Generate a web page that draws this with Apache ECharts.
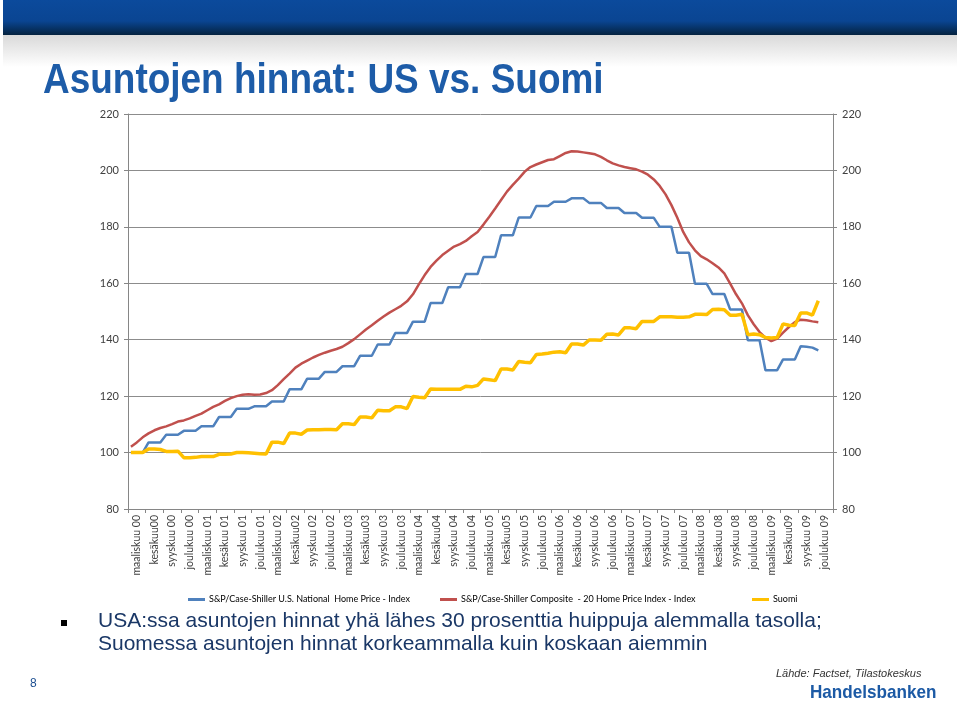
<!DOCTYPE html>
<html>
<head>
<meta charset="utf-8">
<script src="https://cdn.jsdelivr.net/npm/echarts@6/dist/echarts.min.js"></script>
<style>
html,body{margin:0;padding:0;background:#fff;}
#chart{width:960px;height:701px;}
</style>
</head>
<body>
<div id="chart"></div>
<script>
// ---- data ----
const monthNames = ['tammikuu','helmikuu','maaliskuu','huhtikuu','toukokuu','kesäkuu','heinäkuu','elokuu','syyskuu','lokakuu','marraskuu','joulukuu'];
// months March 2000 .. February 2010 (120 categories)
const categories = [];
for (let k = 0; k < 120; k++) {
  const m = (2 + k) % 12;
  const y = 2000 + Math.floor((2 + k) / 12);
  categories.push(monthNames[m] + ' ' + String(y % 100).padStart(2, '0'));
}
const tickLabels = [
  'maaliskuu 00','kesäkuu00','syyskuu 00','joulukuu 00',
  'maaliskuu 01','kesäkuu 01','syyskuu 01','joulukuu 01',
  'maaliskuu 02','kesäkuu02','syyskuu 02','joulukuu 02',
  'maaliskuu 03','kesäkuu03','syyskuu 03','joulukuu 03',
  'maaliskuu 04','kesäkuu04','syyskuu 04','joulukuu 04',
  'maaliskuu 05','kesäkuu05','syyskuu 05','joulukuu 05',
  'maaliskuu 06','kesäkuu 06','syyskuu 06','joulukuu 06',
  'maaliskuu 07','kesäkuu 07','syyskuu 07','joulukuu 07',
  'maaliskuu 08','kesäkuu 08','syyskuu 08','joulukuu 08',
  'maaliskuu 09','kesäkuu09','syyskuu 09','joulukuu 09'
];
const seriesNames = [
  'S&P/Case-Shiller U.S. National  Home Price - Index',
  'S&P/Case-Shiller Composite  - 20 Home Price Index - Index',
  'Suomi'
];
const usNational = [
  100.0,100.0,100.0, 103.6,103.6,103.6, 106.3,106.3,106.3, 107.7,107.7,107.7,
  109.3,109.3,109.3, 112.6,112.6,112.6, 115.5,115.5,115.5, 116.4,116.4,116.4,
  118.1,118.1,118.1, 122.4,122.4,122.4, 126.2,126.2,126.2, 128.6,128.6,128.6,
  130.6,130.6,130.6, 134.3,134.3,134.3, 138.3,138.3,138.3, 142.4,142.4,142.4,
  146.4,146.4,146.4, 153.0,153.0,153.0, 158.6,158.6,158.6, 163.3,163.3,163.3,
  169.3,169.3,169.3, 177.0,177.0,177.0, 183.3,183.3,183.3, 187.4,187.4,187.4,
  188.9,188.9,188.9, 190.1,190.1,190.1, 188.5,188.5,188.5, 186.7,186.7,186.7,
  184.9,184.9,184.9, 183.2,183.2,183.2, 180.0,180.0,180.0, 170.8,170.8,170.8,
  159.8,159.8,159.8, 156.2,156.2,156.2, 150.7,150.7,150.7, 139.8,139.8,139.8,
  129.2,129.2,129.2, 133.0,133.0,133.0, 137.7,137.5,137.2, 136.2
];
const composite20 = [
  102.1,103.6,105.4,106.8,107.9,108.7,109.3,110.1,111.0,111.4,
  112.1,113.0,113.8,115.0,116.2,117.1,118.3,119.3,120.0,120.5,
  120.7,120.5,120.6,121.1,122.1,123.9,126.0,128.0,130.1,131.5,
  132.6,133.7,134.6,135.4,136.1,136.7,137.5,138.8,140.2,141.9,
  143.6,145.1,146.7,148.2,149.6,150.8,152.0,153.6,156.1,159.6,
  162.9,165.8,168.0,170.0,171.5,173.0,173.9,175.0,176.7,178.2,
  180.8,183.6,186.5,189.5,192.5,194.9,197.1,199.5,201.2,202.1,
  202.9,203.7,204.0,205.1,206.2,206.8,206.7,206.4,206.1,205.7,
  204.8,203.6,202.5,201.8,201.2,200.8,200.4,199.6,198.5,196.8,
  194.5,191.5,187.7,183.2,178.2,174.5,171.7,169.6,168.5,167.1,
  165.6,163.5,159.9,156.1,152.9,148.7,145.5,142.7,140.7,139.5,
  140.4,142.5,144.5,146.2,147.1,146.9,146.5,146.2
];
const suomi = [
  100.0,100.0,100.0,101.3,101.3,101.1,100.4,100.4,100.5,98.2,
  98.2,98.3,98.6,98.6,98.6,99.4,99.4,99.5,100.0,100.0,
  99.9,99.8,99.6,99.5,103.7,103.7,103.2,106.9,106.9,106.5,
  108.0,108.1,108.1,108.2,108.2,108.1,110.2,110.2,109.9,112.6,
  112.6,112.3,115.0,114.8,114.8,116.2,116.2,115.6,119.9,119.6,
  119.4,122.5,122.4,122.4,122.4,122.4,122.4,123.5,123.3,123.8,
  126.1,125.8,125.5,129.6,129.6,129.3,132.3,132.0,131.8,134.8,
  134.9,135.2,135.6,135.7,135.4,138.5,138.5,138.1,139.9,139.9,
  139.8,141.9,142.0,141.7,144.2,144.2,143.9,146.5,146.5,146.5,
  148.1,148.1,148.1,148.0,148.0,148.1,149.0,149.0,148.9,150.7,
  150.8,150.6,148.7,148.7,149.0,141.8,142.0,141.8,140.8,140.6,
  140.8,145.6,145.1,145.0,149.5,149.5,148.7,153.8
];
const colors = ['#4F81BD', '#C0504D', '#FFC000'];

// ---- chart ----
const chart = echarts.init(document.getElementById('chart'), null, {renderer: 'canvas'});
const axisFont = 'Lato, "Open Sans", sans-serif';
const gray = '#868686';
const legendBase = {
  orient: 'horizontal', top: 590, itemWidth: 17, itemHeight: 3, itemGap: 4,
  icon: 'rect', selectedMode: false,
  textStyle: {fontFamily: axisFont, fontSize: 9, color: '#000', padding: [0, 0, 0, -1]}
};
const option = {
  animation: false,
  backgroundColor: '#ffffff',
  grid: {left: 128, right: 127, top: 114, bottom: 192, containLabel: false},
  legend: [
    Object.assign({}, legendBase, {left: 183, data: [seriesNames[0]]}),
    Object.assign({}, legendBase, {left: 435, data: [seriesNames[1]]}),
    Object.assign({}, legendBase, {left: 747, data: [seriesNames[2]]})
  ],
  xAxis: {
    type: 'category', data: categories, boundaryGap: true,
    axisLine: {show: true, lineStyle: {color: gray, width: 1}},
    axisTick: {show: true, length: 4, lineStyle: {color: gray}, interval: (i) => i % 3 === 0},
    axisLabel: {
      interval: (i) => i % 3 === 1, rotate: 90, margin: 6,
      fontFamily: axisFont, fontSize: 10.5, color: '#404040',
      formatter: (v, i) => tickLabels[(i - 1) / 3]
    },
    splitLine: {show: false}
  },
  yAxis: [
    {
      type: 'value', min: 80, max: 220, interval: 20, position: 'left',
      axisLine: {show: true, lineStyle: {color: gray}},
      axisTick: {show: true, length: 4, lineStyle: {color: gray}},
      axisLabel: {fontFamily: axisFont, fontSize: 11, color: '#404040', margin: 9},
      splitLine: {show: true, lineStyle: {color: '#8c8c8c', width: 1}}
    },
    {
      type: 'value', min: 80, max: 220, interval: 20, position: 'right',
      axisLine: {show: true, lineStyle: {color: gray}},
      axisTick: {show: true, length: 4, lineStyle: {color: gray}},
      axisLabel: {fontFamily: axisFont, fontSize: 11, color: '#404040', margin: 9},
      splitLine: {show: false}
    }
  ],
  series: [
    {name: seriesNames[0], type: 'line', data: usNational, symbol: 'none', color: colors[0],
     lineStyle: {width: 2.5, color: colors[0]}, z: 2},
    {name: seriesNames[1], type: 'line', data: composite20, symbol: 'none', color: colors[1],
     lineStyle: {width: 2.5, color: colors[1]}, z: 3},
    {name: seriesNames[2], type: 'line', data: suomi, symbol: 'none', color: colors[2],
     lineStyle: {width: 3.5, color: colors[2]}, z: 4}
  ],
  graphic: [
    {type: 'rect', x: 3, y: 0, z: -1, shape: {width: 954, height: 35},
     style: {fill: new echarts.graphic.LinearGradient(0, 0, 0, 1, [
       {offset: 0, color: '#0b4a9c'}, {offset: 0.6, color: '#0a4592'}, {offset: 1, color: '#04223f'}])}},
    {type: 'rect', x: 3, y: 35, z: -1, shape: {width: 954, height: 32},
     style: {fill: new echarts.graphic.LinearGradient(0, 0, 0, 1, [
       {offset: 0, color: '#d9d9d9'}, {offset: 1, color: '#ffffff'}])}},
    {type: 'text', x: 43, y: 60, scaleX: 0.88, z: 10,
     style: {text: 'Asuntojen hinnat: US vs. Suomi', fill: '#1d5ca8', verticalAlign: 'top',
       font: 'bold 42px "Liberation Sans", Arial, sans-serif'}},
    {type: 'rect', x: 61, y: 620, shape: {width: 6, height: 6}, style: {fill: '#000'}},
    {type: 'text', x: 98, y: 611, z: 10,
     style: {text: 'USA:ssa asuntojen hinnat yhä lähes 30 prosenttia huippuja alemmalla tasolla;',
       fill: '#1a3766', verticalAlign: 'top', font: '21px "Liberation Sans", Arial, sans-serif'}},
    {type: 'text', x: 98, y: 634, z: 10,
     style: {text: 'Suomessa asuntojen hinnat korkeammalla kuin koskaan aiemmin',
       fill: '#1a3766', verticalAlign: 'top', font: '21px "Liberation Sans", Arial, sans-serif'}},
    {type: 'text', x: 30, y: 678, z: 10,
     style: {text: '8', fill: '#1d4f91', verticalAlign: 'top', font: '12px "Liberation Sans", Arial, sans-serif'}},
    {type: 'text', x: 776, y: 668, z: 10,
     style: {text: 'Lähde: Factset, Tilastokeskus', fill: '#333333', verticalAlign: 'top',
       font: 'italic 11px "Liberation Sans", Arial, sans-serif'}},
    {type: 'text', x: 810, y: 683, scaleX: 0.9, z: 10,
     style: {text: 'Handelsbanken', fill: '#1c5aa5', verticalAlign: 'top',
       font: 'bold 19px "Liberation Sans", Arial, sans-serif'}}
  ]
};
chart.setOption(option);
</script>
</body>
</html>
